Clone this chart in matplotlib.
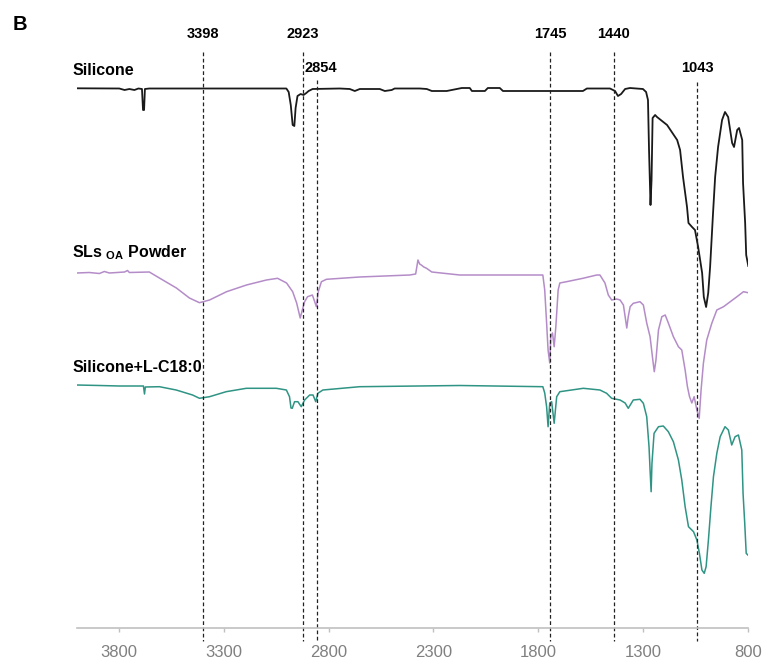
import matplotlib
matplotlib.use("Agg")
import matplotlib.pyplot as plt

plt.rcParams['font.family'] = ['Liberation Sans', 'DejaVu Sans']
plt.rcParams['mathtext.fontset'] = 'custom'
plt.rcParams['mathtext.rm'] = 'Liberation Sans:bold'

# FTIR spectra, wavenumber (cm-1) vs. vertical trace position (stacked, offset units)
silicone_wn = [4000, 3797, 3772, 3749, 3725, 3706, 3689, 3684, 3679, 3675, 3654,
               3001, 2990, 2980, 2971, 2963, 2957, 2948, 2933, 2919, 2906, 2895, 2876,
               2747, 2699, 2675, 2651, 2556, 2532, 2499, 2485, 2365, 2332, 2308, 2237,
               2165, 2127, 2117, 2055, 2041, 1984, 1969, 1588, 1569, 1459, 1435, 1421,
               1406, 1387, 1364, 1302, 1287, 1278, 1273, 1266, 1261, 1256, 1244, 1235,
               1187, 1139, 1125, 1111, 1092, 1085, 1068, 1054, 1039, 1020, 1012, 1001,
               991, 982, 968, 958, 944, 925, 911, 896, 877, 868, 853, 844, 829, 825,
               815, 810, 800]
silicone_y = [88.3, 88.5, 90, 89, 90, 88.5, 89, 110, 110, 89, 88.5,
              88.5, 92, 105, 125, 126, 108, 96, 94, 95, 93, 91, 89,
              88.5, 89, 91, 89, 89, 91, 90, 88.5, 88.5, 89, 91, 91,
              88, 88, 91, 91, 88, 88, 91, 91, 88.5, 88.5, 91, 96,
              94, 89, 88, 89, 92, 100, 150, 205, 180, 118, 115, 117,
              125, 140, 150, 177, 207, 223, 227, 230, 247, 273, 297, 307,
              293, 267, 213, 177, 147, 120, 112, 117, 143, 147, 130, 128, 140, 183,
              223, 255, 266]

sls_wn = [4000, 3940, 3892, 3868, 3844, 3772, 3758, 3749, 3654, 3606, 3525, 3463,
          3415, 3367, 3286, 3191, 3096, 3043, 3000, 2971, 2952, 2935, 2925, 2914,
          2900, 2877, 2866, 2858, 2849, 2834, 2810, 2652, 2413, 2385, 2374, 2366,
          2358, 2346, 2333, 2308, 2175, 1984, 1779, 1770, 1761, 1754, 1746, 1741,
          1733, 1725, 1717, 1706, 1698, 1666, 1588, 1522, 1507, 1483, 1467, 1451,
          1427, 1411, 1395, 1379, 1372, 1363, 1348, 1316, 1300, 1284, 1268, 1255,
          1248, 1240, 1228, 1212, 1196, 1181, 1157, 1133, 1117, 1101, 1090, 1080,
          1069, 1058, 1045, 1034, 1025, 1014, 998, 974, 950, 918, 886, 854, 823, 801]
sls_y = [273, 272.5, 273.5, 271.5, 273, 272, 270.5, 272.5, 272, 278, 288, 298,
         302.7, 300, 291.7, 285, 280, 278.3, 283, 291.7, 303, 318, 310, 301.7,
         296.7, 295, 301.7, 306.7, 291.7, 281.7, 279.3, 277, 275, 274, 260, 264,
         265, 267, 268.3, 272, 275, 275, 275, 290, 323, 350, 363, 336.7,
         333, 346.7, 326.7, 290, 283, 281.7, 278.3, 275, 275, 283, 295, 300,
         299, 300, 305, 328, 316.7, 306.7, 303.3, 301.7, 305, 323, 336.7, 360,
         371.7, 360, 330, 316.7, 315, 323, 336.7, 346.7, 350, 370, 386.7, 396.7,
         403, 396.7, 410, 418.3, 390, 363.3, 340, 323.3, 310, 306.7, 301.7, 296.7, 291.7, 292.7]

blend_wn = [4000, 3892, 3797, 3702, 3682, 3677, 3673, 3606, 3526, 3448, 3415, 3367,
            3288, 3192, 3049, 3001, 2986, 2979, 2973, 2962, 2946, 2930, 2914, 2890,
            2874, 2861, 2851, 2827, 2652, 2175, 1779, 1770, 1761, 1754, 1746, 1737,
            1725, 1713, 1698, 1586, 1507, 1475, 1451, 1411, 1387, 1372, 1348, 1316,
            1300, 1284, 1273, 1268, 1263, 1259, 1249, 1228, 1205, 1181, 1157, 1133,
            1117, 1101, 1085, 1061, 1045, 1033, 1021, 1010, 1001, 990, 978, 966,
            950, 934, 911, 895, 879, 863, 847, 831, 825, 817, 810, 802]
blend_y = [385, 385.5, 386, 386, 386, 394, 387, 386.7, 390, 395, 398.3, 396.7,
           391.7, 388.3, 388.3, 390, 396.7, 408, 408.3, 401.7, 401.7, 406.7, 400, 395,
           395, 401.7, 393.3, 390, 386.7, 385.5, 386.7, 393, 406.7, 426.7, 403, 401.7,
           423.3, 396.7, 391.7, 388.3, 390, 393.3, 398.3, 400, 403, 408.3, 400, 399.3,
           403.3, 416.7, 446.7, 470, 491.7, 463.3, 433.3, 426.7, 426, 431.7, 441.7, 460,
           480, 506.7, 526.7, 531.7, 540, 553.3, 570, 573.3, 566.7, 540, 506.7, 476.7,
           453.3, 436.7, 426.7, 430, 445, 436.7, 435, 450, 493.3, 523.3, 553.3, 555]

peaks = [3398, 2923, 2854, 1745, 1440, 1043]
peak_tops = [52, 52, 80, 52, 52, 82]

fig = plt.figure(figsize=(7.63, 6.59), dpi=100)
ax = fig.add_axes([76.7 / 763, 31 / 659, (748.3 - 76.7) / 763, 628 / 659])

ax.plot(silicone_wn, silicone_y, color='#1a1a1a', lw=1.3)
ax.plot(sls_wn, sls_y, color='#b48cc8', lw=1.1)
ax.plot(blend_wn, blend_y, color='#2f9484', lw=1.1)

for wn, top in zip(peaks, peak_tops):
    ax.plot([wn, wn], [top, 641], color='#222222', lw=0.9,
            ls=(0, (3, 2)), clip_on=False)

for wn in [3398, 2923, 1745, 1440]:
    ax.text(wn, 34, str(wn), ha='center', va='center', fontsize=10.5, fontweight='bold')
ax.text(2915, 67.5, '2854', ha='left', va='center', fontsize=10.5, fontweight='bold')
ax.text(1043, 68, '1043', ha='center', va='center', fontsize=10.5, fontweight='bold')

ax.text(4021, 75, 'Silicone', ha='left', va='baseline', fontsize=11.5, fontweight='bold')
ax.text(4021, 257, r'SLs $_{\mathrm{OA}}$ Powder', ha='left', va='baseline',
        fontsize=11.5, fontweight='bold')
ax.text(4021, 372, 'Silicone+L-C18:0', ha='left', va='baseline', fontsize=11.5,
        fontweight='bold')

fig.text(13 / 763, 1 - 25 / 659, 'B', ha='left', va='center', fontsize=14.5,
         fontweight='bold')

ax.set_xlim(4000, 800)
ax.set_ylim(628, 0)
ax.set_xticks([3800, 3300, 2800, 2300, 1800, 1300, 800])
ax.set_yticks([])
for s in ['top', 'right', 'left']:
    ax.spines[s].set_visible(False)
ax.spines['bottom'].set_color('#c0c0c0')
ax.spines['bottom'].set_linewidth(1.2)
ax.tick_params(axis='x', colors='#c0c0c0', labelcolor='#808080', length=3,
               width=1, pad=9, labelsize=12)
ax.patch.set_alpha(0)

fig.savefig('out.png', dpi=100)
